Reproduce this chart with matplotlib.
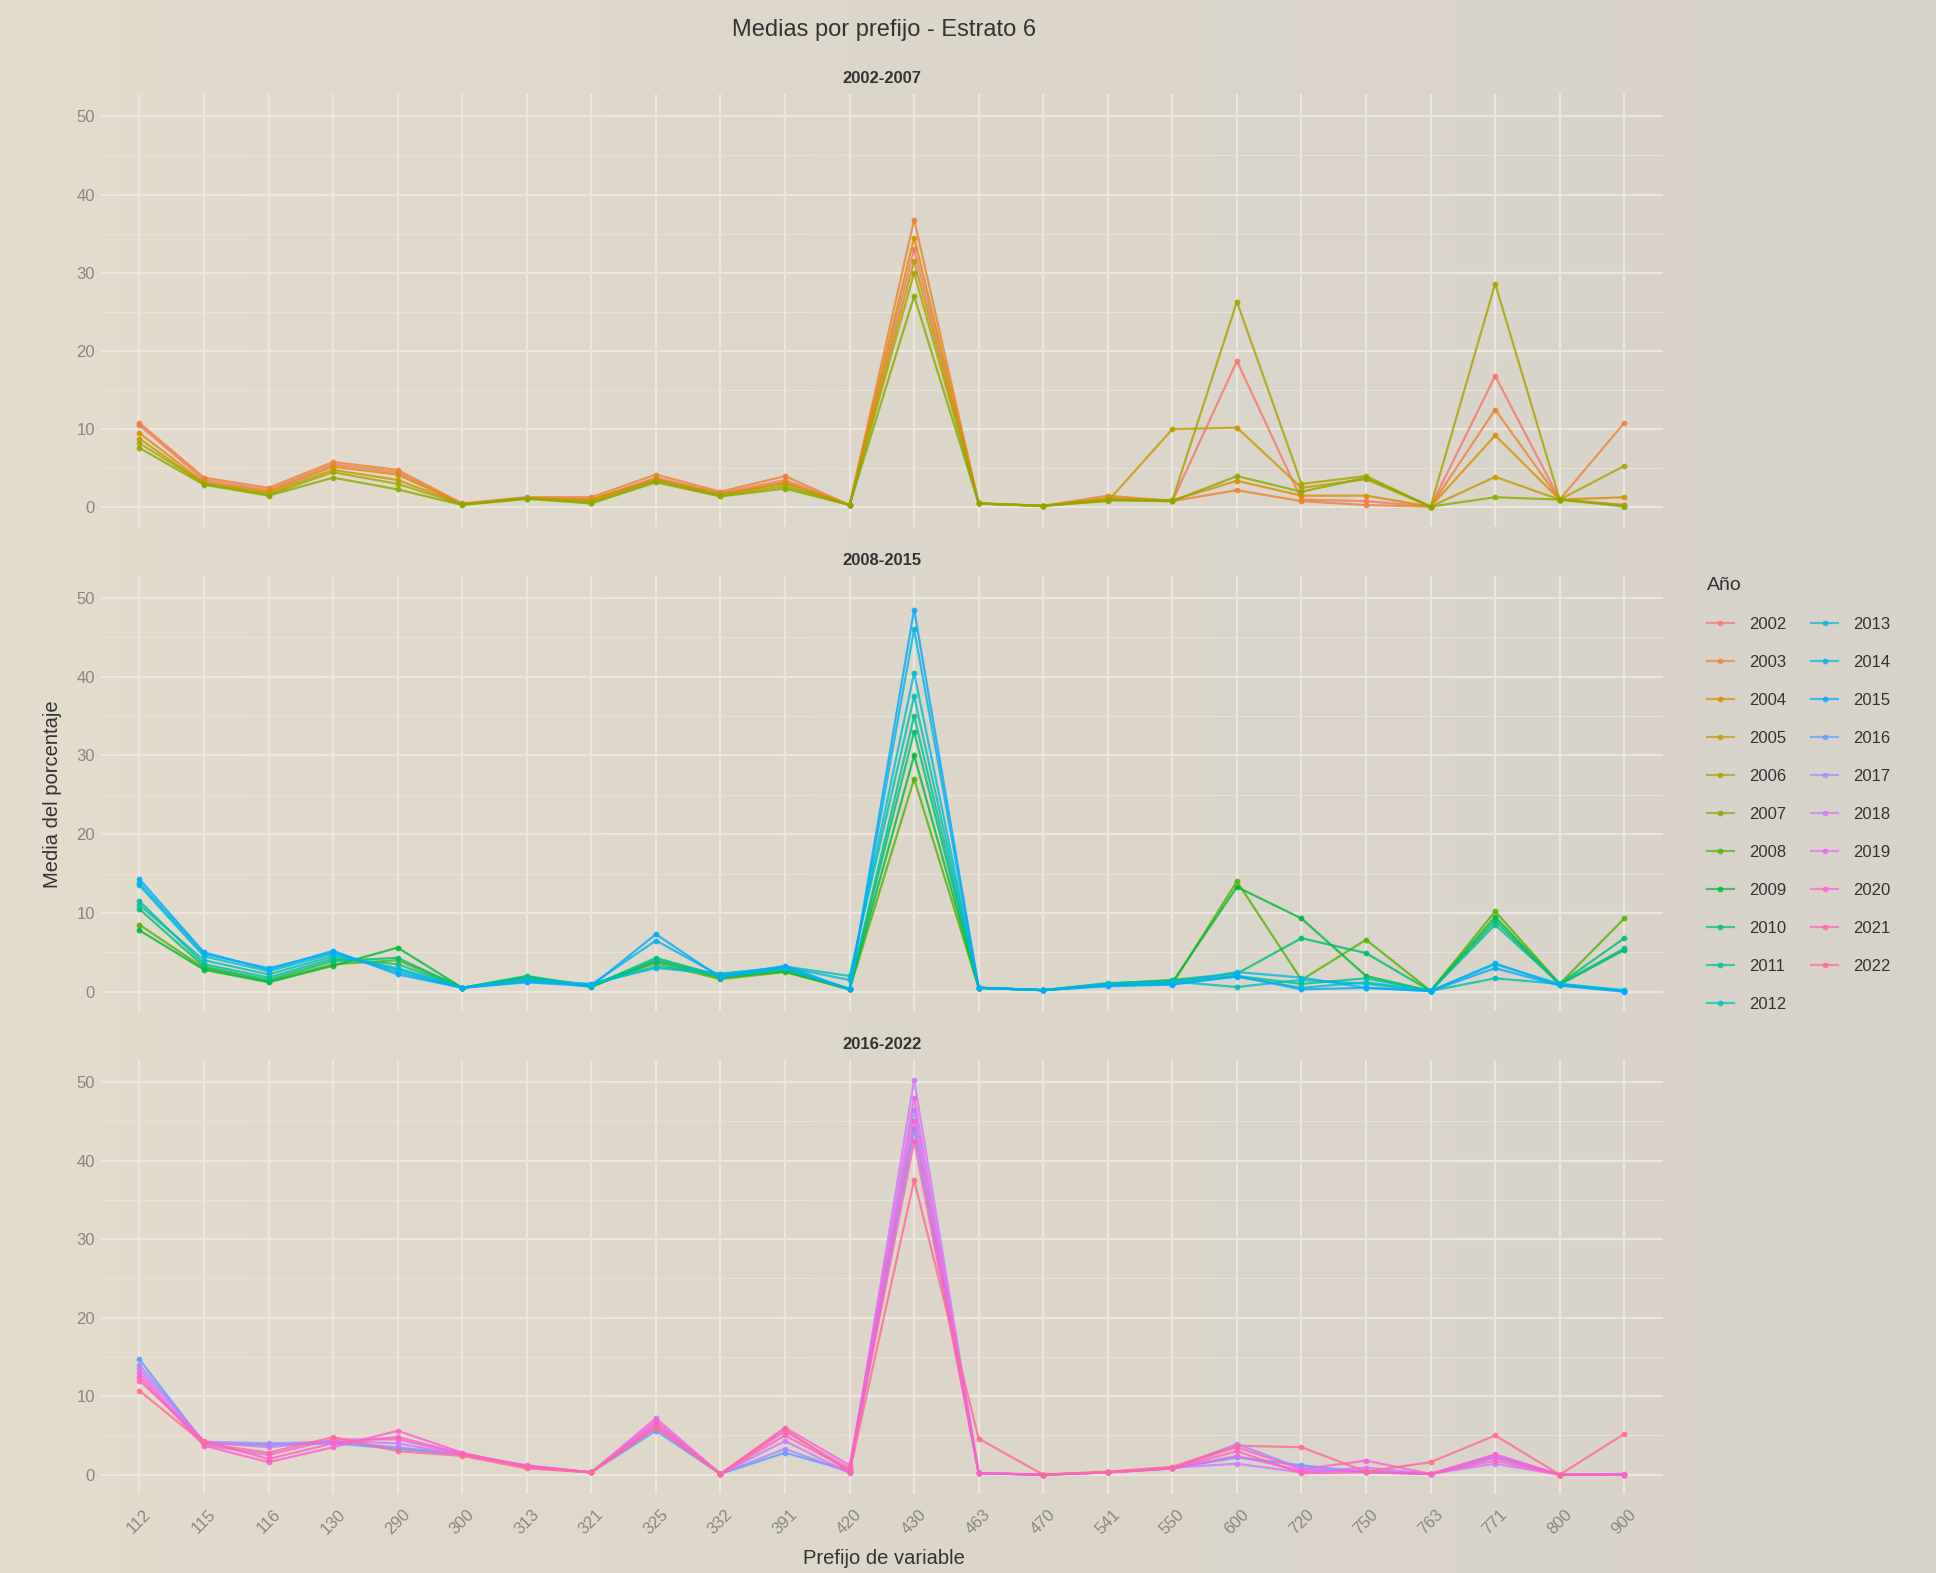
import matplotlib
matplotlib.use("Agg")
import matplotlib.pyplot as plt
from matplotlib.lines import Line2D
from matplotlib.colors import LinearSegmentedColormap
import numpy as np

plt.rcParams['font.family'] = ['Liberation Sans', 'DejaVu Sans']

# categorias del eje x
prefijos = ["112", "115", "116", "130", "290", "300", "313", "321", "325", "332", "391", "420",
            "430", "463", "470", "541", "550", "600", "720", "750", "763", "771", "800", "900"]

# 2002-2007
y2002 = [10.5, 3.5, 2.2, 5.5, 4.5, 0.4, 1.2, 1.0, 3.8, 1.8, 3.5, 0.3, 33.0, 0.5, 0.2, 1.0, 0.8, 18.7, 1.0, 0.8, 0.1, 16.8, 1.0, 0.3]
y2003 = [10.8, 3.8, 2.5, 5.8, 4.8, 0.5, 1.3, 1.3, 4.2, 2.0, 4.0, 0.3, 36.8, 0.5, 0.2, 1.5, 0.8, 2.2, 0.8, 0.3, 0.1, 12.5, 1.0, 10.8]
y2004 = [9.5, 3.2, 2.0, 5.2, 4.2, 0.4, 1.2, 0.8, 3.5, 1.6, 3.2, 0.3, 34.5, 0.5, 0.2, 1.2, 0.9, 3.4, 1.5, 1.5, 0.1, 9.2, 1.0, 1.3]
y2005 = [8.8, 3.0, 1.8, 4.8, 3.5, 0.4, 1.1, 1.0, 3.6, 1.7, 3.0, 0.3, 31.5, 0.5, 0.2, 0.8, 10.0, 10.2, 2.5, 3.6, 0.1, 3.9, 1.0, 0.3]
y2006 = [8.2, 3.1, 1.6, 4.5, 3.0, 0.4, 1.2, 0.6, 3.4, 1.5, 2.7, 0.3, 30.0, 0.5, 0.2, 1.0, 0.9, 26.3, 3.0, 4.0, 0.1, 28.6, 1.0, 5.3]
y2007 = [7.6, 2.9, 1.5, 3.8, 2.3, 0.3, 1.1, 0.5, 3.2, 1.4, 2.4, 0.3, 27.0, 0.5, 0.2, 0.9, 0.8, 4.0, 2.0, 3.8, 0.1, 1.3, 1.0, 0.1]

# 2008-2015
y2008 = [8.5, 3.0, 1.3, 3.5, 4.0, 0.5, 1.5, 0.8, 3.6, 1.6, 2.5, 0.3, 27.0, 0.5, 0.2, 0.8, 1.0, 14.0, 1.5, 6.6, 0.1, 10.2, 1.0, 9.3]
y2009 = [7.8, 2.8, 1.2, 3.3, 5.6, 0.5, 1.8, 0.6, 3.9, 1.8, 2.6, 0.3, 30.0, 0.5, 0.2, 0.9, 1.2, 13.3, 9.3, 2.0, 0.1, 9.5, 0.9, 5.3]
y2010 = [10.5, 3.2, 1.5, 3.9, 4.3, 0.5, 2.0, 0.7, 4.3, 2.0, 2.8, 0.4, 33.0, 0.5, 0.2, 1.0, 1.5, 2.3, 6.8, 4.9, 0.1, 9.0, 1.0, 6.8]
y2011 = [11.5, 3.5, 1.8, 4.2, 3.5, 0.5, 1.9, 0.8, 4.0, 2.1, 3.0, 0.3, 35.0, 0.5, 0.2, 1.1, 1.4, 2.0, 1.0, 1.7, 0.1, 8.5, 1.0, 5.5]
y2012 = [11.0, 4.0, 2.2, 4.5, 3.0, 0.5, 1.6, 0.9, 3.2, 2.2, 3.2, 2.0, 37.5, 0.5, 0.2, 1.0, 1.3, 0.6, 1.5, 1.0, 0.1, 1.7, 1.0, 0.2]
y2013 = [13.5, 4.5, 2.6, 4.8, 2.8, 0.5, 1.4, 1.0, 3.0, 2.3, 3.1, 1.5, 40.5, 0.5, 0.2, 0.9, 1.0, 1.9, 0.5, 1.2, 0.1, 3.5, 1.0, 0.1]
y2014 = [13.8, 4.8, 3.0, 5.0, 2.5, 0.5, 1.3, 0.9, 6.5, 2.0, 3.0, 0.3, 46.0, 0.5, 0.2, 0.8, 1.1, 2.5, 1.8, 0.5, 0.1, 3.6, 0.8, 0.1]
y2015 = [14.3, 5.0, 2.8, 5.2, 2.2, 0.5, 1.2, 0.7, 7.3, 1.8, 3.3, 0.3, 48.5, 0.5, 0.2, 0.7, 0.9, 2.0, 0.3, 0.5, 0.1, 3.0, 0.8, 0.0]

# 2016-2022
y2016 = [14.7, 4.0, 3.8, 4.0, 3.3, 2.6, 1.0, 0.3, 5.6, 0.1, 2.8, 0.5, 44.0, 0.2, 0.0, 0.3, 0.8, 2.2, 1.2, 0.3, 0.1, 2.2, 0.0, 0.1]
y2017 = [14.0, 4.2, 4.0, 4.2, 3.5, 2.6, 1.1, 0.3, 6.0, 0.1, 3.3, 0.3, 46.5, 0.2, 0.0, 0.3, 0.8, 3.9, 0.8, 0.4, 0.1, 2.5, 0.0, 0.0]
y2018 = [13.5, 4.1, 3.5, 4.3, 4.0, 2.5, 1.1, 0.3, 6.5, 0.1, 4.3, 0.2, 50.3, 0.2, 0.0, 0.3, 0.9, 1.4, 0.3, 0.9, 0.1, 1.4, 0.0, 0.0]
y2019 = [13.0, 3.8, 2.5, 4.5, 4.5, 2.6, 1.2, 0.3, 7.2, 0.1, 5.5, 0.8, 48.0, 0.2, 0.0, 0.3, 0.8, 2.4, 0.5, 0.5, 0.1, 2.2, 0.0, 0.0]
y2020 = [12.5, 3.7, 1.6, 3.5, 5.6, 2.8, 1.0, 0.3, 6.8, 0.1, 6.0, 1.2, 45.0, 0.2, 0.0, 0.3, 0.9, 3.5, 0.7, 1.8, 0.1, 2.6, 0.0, 0.0]
y2021 = [12.0, 4.3, 2.0, 4.0, 4.8, 2.7, 1.1, 0.3, 6.3, 0.1, 5.0, 0.6, 42.5, 0.2, 0.0, 0.3, 0.8, 3.0, 0.2, 0.3, 0.1, 1.8, 0.0, 0.0]
y2022 = [10.7, 4.0, 2.8, 4.8, 3.0, 2.4, 0.8, 0.3, 6.0, 0.1, 5.8, 0.3, 37.5, 4.6, 0.0, 0.4, 1.0, 3.7, 3.5, 0.4, 1.6, 5.0, 0.0, 5.2]

anios = list(range(2002, 2023))
series = [y2002, y2003, y2004, y2005, y2006, y2007,
          y2008, y2009, y2010, y2011, y2012, y2013, y2014, y2015,
          y2016, y2017, y2018, y2019, y2020, y2021, y2022]
paneles = [("2002-2007", 2002, 2007), ("2008-2015", 2008, 2015), ("2016-2022", 2016, 2022)]


def hue_pal(n, l=65, c=100):
    # paleta por defecto de ggplot (hcl polar LUV)
    hues = 15 + np.arange(n) * 360.0 / n
    cols = []
    Y = 100 * ((l + 16) / 116) ** 3
    un, vn = 0.1978398, 0.4683363
    for h in hues:
        u = c * np.cos(np.radians(h))
        v = c * np.sin(np.radians(h))
        uu = u / (13 * l) + un
        vv = v / (13 * l) + vn
        X = 9.0 * Y * uu / (4 * vv)
        Z = -X / 3 - 5 * Y + 3 * Y / vv
        X, Yy, Z = X / 100, Y / 100, Z / 100
        r = 3.240479 * X - 1.537150 * Yy - 0.498535 * Z
        g = -0.969256 * X + 1.875992 * Yy + 0.041556 * Z
        b = 0.055648 * X - 0.204043 * Yy + 1.057311 * Z
        rgb = []
        for ch in (r, g, b):
            ch = 1.055 * ch ** (1 / 2.4) - 0.055 if ch > 0.00304 else 12.92 * ch
            rgb.append(min(max(ch, 0), 1))
        cols.append(tuple(rgb))
    return cols


colores = hue_pal(len(anios))
bg = "#dcd6ca"
grid_c = "#ebe7df"
tick_c = "#8a8780"

fig = plt.figure(figsize=(19.36, 15.73), dpi=100, facecolor=bg)

# fondo con un leve degradado (foto de pantalla)
bg_ax = fig.add_axes([0, 0, 1, 1], zorder=-10)
grad = np.linspace(0, 1, 256).reshape(1, -1)
cmap_bg = LinearSegmentedColormap.from_list("bg", ["#e4dccd", "#dcd6ca", "#d8d3ca"])
bg_ax.imshow(grad, aspect="auto", cmap=cmap_bg, extent=[0, 1, 0, 1])
bg_ax.axis("off")

x = np.arange(len(prefijos))
ax_pos = [(0.052, 0.665, 0.807, 0.275), (0.052, 0.357, 0.807, 0.277), (0.052, 0.050, 0.807, 0.276)]

axes = []
for (titulo, a0, a1), pos in zip(paneles, ax_pos):
    ax = fig.add_axes(pos)
    ax.set_facecolor("none")
    for i, anio in enumerate(anios):
        if a0 <= anio <= a1:
            ax.plot(x, series[i], color=colores[i], lw=1.6, alpha=0.8,
                    marker="o", ms=3.2, mec=colores[i], zorder=3)
    ax.set_xlim(-0.6, len(prefijos) - 0.4)
    ax.set_ylim(-2.5, 52.8)
    ax.set_yticks([0, 10, 20, 30, 40, 50])
    ax.set_yticks([5, 15, 25, 35, 45], minor=True)
    ax.set_xticks(x)
    ax.grid(True, which="major", color=grid_c, lw=1.6, zorder=0)
    ax.grid(True, which="minor", axis="y", color=grid_c, lw=0.8, alpha=0.7, zorder=0)
    ax.set_axisbelow(True)
    for s in ax.spines.values():
        s.set_visible(False)
    ax.tick_params(axis="both", which="both", length=0, colors=tick_c, labelsize=12)
    ax.tick_params(axis="y", pad=4)
    ax.set_title(titulo, fontsize=12, fontweight="bold", color="#333333", pad=8)
    axes.append(ax)

for ax in axes[:2]:
    ax.set_xticklabels([])
axes[2].set_xticklabels(prefijos, rotation=45, ha="center", va="top")
axes[2].tick_params(axis="x", pad=9)

fig.text(0.4565, 0.981, "Medias por prefijo - Estrato 6", ha="center", va="center",
         fontsize=17, color="#333333")
fig.text(0.4565, 0.0095, "Prefijo de variable", ha="center", va="center",
         fontsize=14.5, color="#333333")
fig.text(0.027, 0.495, "Media del porcentaje", ha="center", va="center",
         rotation=90, fontsize=14.5, color="#333333")

handles = [Line2D([0], [0], color=colores[i], lw=1.6, alpha=0.7, marker="o", ms=3.2)
           for i in range(len(anios))]
leg = fig.legend(handles, [str(a) for a in anios], ncol=2, loc="upper left",
                 bbox_to_anchor=(0.874, 0.643), frameon=False, fontsize=12,
                 title="Año", title_fontsize=14, alignment="left",
                 handlelength=1.6, labelspacing=1.38, columnspacing=1.52,
                 handletextpad=0.9, labelcolor="#333333")
leg.get_title().set_color("#333333")

fig.savefig("out.png", dpi=100, facecolor=bg)
